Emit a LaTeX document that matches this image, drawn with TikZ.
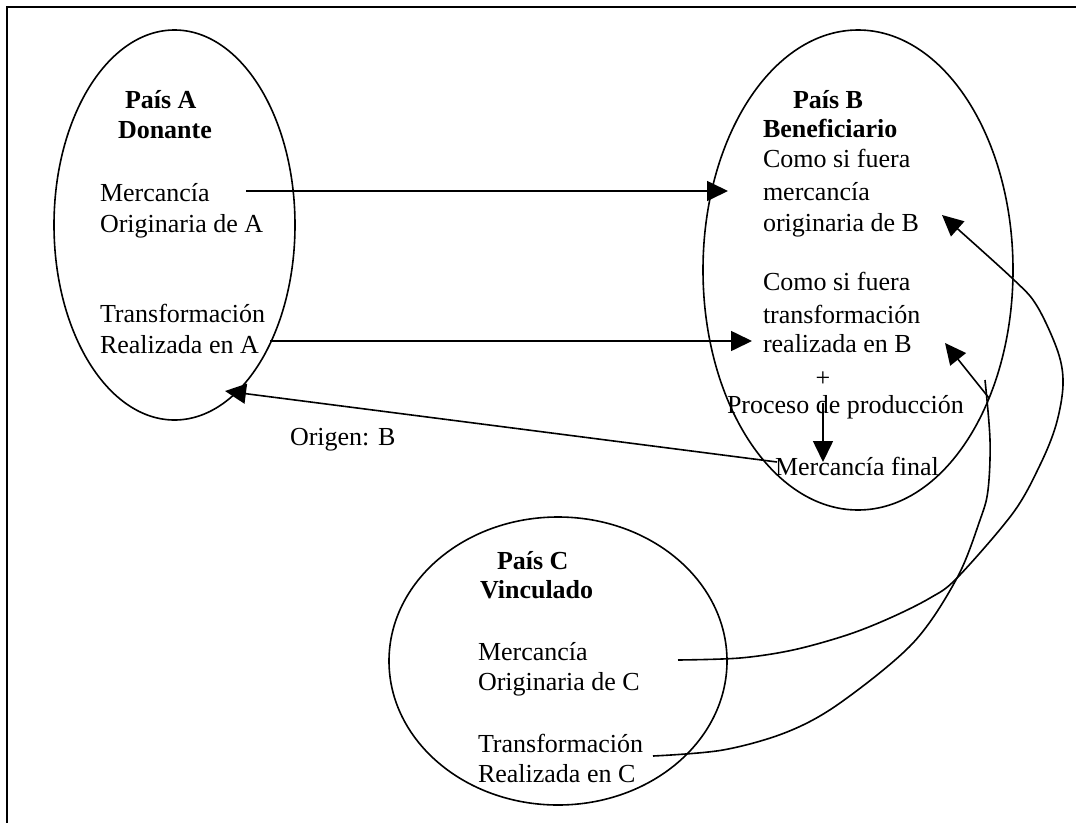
\documentclass[tikz,border=0pt]{standalone}
\usepackage{fontspec}
\setmainfont{Liberation Serif}
\usetikzlibrary{arrows.meta,calc,shapes.geometric}
\begin{document}
\begin{tikzpicture}[x=1pt,y=-1pt,
  every node/.style={inner sep=0pt,outer sep=0pt,font=\fontsize{26}{31}\selectfont},
  lbl/.style={anchor=base west},
  hd/.style={anchor=base west,font=\fontsize{26}{31}\selectfont\bfseries},
  country/.style={draw,ellipse,line width=1.6pt,inner sep=0pt},
  conn/.style={line width=1.6pt},
  arr/.style={line width=1.6pt,-{Triangle[length=21pt,width=20pt]}},
  ]
\useasboundingbox (0,0) rectangle (1076,822);
% outer frame
\draw[line width=2.5pt] (7,840) -- (7,7) -- (1090,7);

% the three countries
\node[country,minimum width=241pt,minimum height=390pt] (paisA) at (174.5,225) {};
\node[country,minimum width=310pt,minimum height=480pt] (paisB) at (858,270) {};
\node[country,minimum width=338pt,minimum height=288pt] (paisC) at (558,661) {};

% country A
\node[hd]  (aName) at (125,108) {País A};
\node[hd]  (aRole) at (118,138) {Donante};
\node[lbl] (aM1) at (100,201) {Mercancía};
\node[lbl] (aM2) at (100,232) {Originaria de A};
\node[lbl] (aT1) at (100,322) {Transformación};
\node[lbl] (aT2) at (100,353) {Realizada en A};

% country B
\node[hd]  (bName) at (793,108) {País B};
\node[hd]  (bRole) at (763,137) {Beneficiario};
\node[lbl] (bM1) at (763,167) {Como si fuera};
\node[lbl] (bM2) at (763,200) {mercancía};
\node[lbl] (bM3) at (763,231) {originaria de B};
\node[lbl] (bT1) at (763,290) {Como si fuera};
\node[lbl] (bT2) at (763,323) {transformación};
\node[lbl] (bT3) at (763,352) {realizada en B};
\node[anchor=base] (bPlus) at (823,386) {+};
\node[lbl] (bProc) at (727,413) {Proceso de producción};
\node[lbl] (bFinal) at (775,475) {Mercancía final};

% country C
\node[hd]  (cName) at (497,569) {País C};
\node[hd]  (cRole) at (480,598) {Vinculado};
\node[lbl] (cM1) at (478,660) {Mercancía};
\node[lbl] (cM2) at (478,690) {Originaria de C};
\node[lbl] (cT1) at (478,752) {Transformación};
\node[lbl] (cT2) at (478,782) {Realizada en C};

\node[lbl] (origen) at (290,445) {Origen: B};

% connector ends
\coordinate (aMout) at (246,191);
\coordinate (bMin)  at (728,191);
\coordinate (aTout) at (270,341);
\coordinate (bTin)  at (752,341);
\coordinate (finOut) at (777,462);
\coordinate (aIn)   at (225,391);
\coordinate (procOut) at (823,403);
\coordinate (finIn) at (823,462);
\coordinate (cMout) at (678,660);
\coordinate (bOrigIn) at (942,215);
\coordinate (cTout) at (653,756);
\coordinate (cTtop) at (985,380);
\coordinate (bRealOut) at (989,398);
\coordinate (bRealIn) at (945,343);

% flows A -> B
\draw[arr] (aMout) -- (bMin);
\draw[arr] (aTout) -- (bTin);
% final good back to A
\draw[arr] (finOut) -- (aIn);
% production step inside B
\draw[arr] (procOut) -- (finIn);

% flows C -> B
\draw[arr] plot[smooth,tension=0.55] coordinates {(cMout) (740,658) (793,650) (847,635) (890,618) (930,598) (957,578) (1013,513) (1040,465) (1056,425) (1063,385) (1058,352) (1037,306) (1013,279) (bOrigIn)};
\draw[conn] plot[smooth,tension=0.55] coordinates {(cTout) (723,750) (787,732) (840,703) (913,643) (957,578) (980,520) (988,490) (990,440) (cTtop)};
\draw[arr] (bRealOut) -- (bRealIn);
\end{tikzpicture}
\end{document}
